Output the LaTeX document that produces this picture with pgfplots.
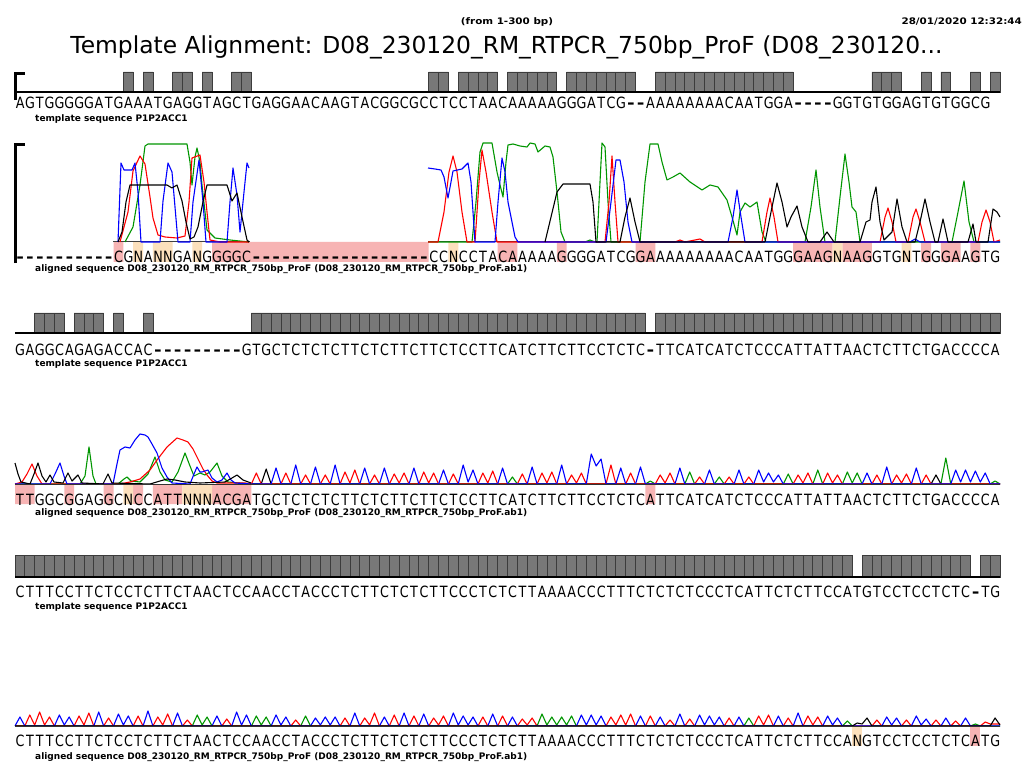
\documentclass[border=0pt]{standalone}
\usepackage{pgfplots}
\pgfplotsset{compat=1.18}
\usepackage{graphicx}
\usepackage{fontspec}
\setmainfont{DejaVu Sans}
\newfontfamily\seqfont[FakeStretch=0.82]{DejaVu Sans}
\newfontfamily\hdrfont[FakeStretch=1.15]{DejaVu Sans}
\definecolor{trgreen}{RGB}{0,150,0}
\definecolor{trred}{RGB}{255,0,0}
\definecolor{trblue}{RGB}{0,0,255}
\definecolor{trblack}{RGB}{0,0,0}
\definecolor{pinkhl}{RGB}{247,180,180}
\definecolor{orangehl}{RGB}{252,224,188}
\definecolor{barfill}{RGB}{120,120,120}
\definecolor{bardraw}{RGB}{60,60,60}
\newlength\cw \setlength\cw{9.85pt}
\makeatletter
\def\seqrow#1{\seq@a#1\relax}
\def\seq@b#1{\ifx-#1\makebox[\cw][c]{\bfseries\scalebox{1.45}[1]{-}}\else\makebox[\cw][c]{#1}\fi}
\def\seq@a#1{\ifx\relax#1\else\seq@b#1\expandafter\seq@a\fi}
\makeatother
\pgfplotsset{blk/.style={scale only axis, hide axis, clip=false, anchor=south west},
  tr/.style={line width=1.1pt, line join=round, mark=none},
  barrow/.style={ybar, bar width=1, bar shift=0pt, fill=barfill, draw=bardraw, line width=0.8pt},
  hlp/.style={ybar, bar width=1, bar shift=0pt, fill=pinkhl, draw=none},
  hlo/.style={ybar, bar width=1, bar shift=0pt, fill=orangehl, draw=none}}
\begin{document}
\begin{tikzpicture}
\fill[white] (0,0) rectangle (1030pt,764pt);
\useasboundingbox (0,0) rectangle (1030pt,764pt);
% ===== template bars =====
\begin{axis}[blk, at={(15pt,672pt)}, width=985pt, height=20pt, xmin=0.5, xmax=100.5, ymin=0, ymax=1]
\addplot[barrow] coordinates {(12,1)(14,1)(17,1)(18,1)(20,1)(23,1)(24,1)(43,1)(44,1)(46,1)(47,1)(48,1)(49,1)(51,1)(52,1)(53,1)(54,1)(55,1)(57,1)(58,1)(59,1)(60,1)(61,1)(62,1)(63,1)(66,1)(67,1)(68,1)(69,1)(70,1)(71,1)(72,1)(73,1)(74,1)(75,1)(76,1)(77,1)(78,1)(79,1)(88,1)(89,1)(90,1)(93,1)(95,1)(98,1)(100,1)};
\end{axis}
\begin{axis}[blk, at={(15pt,431pt)}, width=985pt, height=20pt, xmin=0.5, xmax=100.5, ymin=0, ymax=1]
\addplot[barrow] coordinates {(3,1)(4,1)(5,1)(7,1)(8,1)(9,1)(11,1)(14,1)(25,1)(26,1)(27,1)(28,1)(29,1)(30,1)(31,1)(32,1)(33,1)(34,1)(35,1)(36,1)(37,1)(38,1)(39,1)(40,1)(41,1)(42,1)(43,1)(44,1)(45,1)(46,1)(47,1)(48,1)(49,1)(50,1)(51,1)(52,1)(53,1)(54,1)(55,1)(56,1)(57,1)(58,1)(59,1)(60,1)(61,1)(62,1)(63,1)(64,1)(66,1)(67,1)(68,1)(69,1)(70,1)(71,1)(72,1)(73,1)(74,1)(75,1)(76,1)(77,1)(78,1)(79,1)(80,1)(81,1)(82,1)(83,1)(84,1)(85,1)(86,1)(87,1)(88,1)(89,1)(90,1)(91,1)(92,1)(93,1)(94,1)(95,1)(96,1)(97,1)(98,1)(99,1)(100,1)};
\end{axis}
\begin{axis}[blk, at={(15pt,187pt)}, width=985pt, height=22pt, xmin=0.5, xmax=100.5, ymin=0, ymax=1]
\addplot[barrow] coordinates {(1,1)(2,1)(3,1)(4,1)(5,1)(6,1)(7,1)(8,1)(9,1)(10,1)(11,1)(12,1)(13,1)(14,1)(15,1)(16,1)(17,1)(18,1)(19,1)(20,1)(21,1)(22,1)(23,1)(24,1)(25,1)(26,1)(27,1)(28,1)(29,1)(30,1)(31,1)(32,1)(33,1)(34,1)(35,1)(36,1)(37,1)(38,1)(39,1)(40,1)(41,1)(42,1)(43,1)(44,1)(45,1)(46,1)(47,1)(48,1)(49,1)(50,1)(51,1)(52,1)(53,1)(54,1)(55,1)(56,1)(57,1)(58,1)(59,1)(60,1)(61,1)(62,1)(63,1)(64,1)(65,1)(66,1)(67,1)(68,1)(69,1)(70,1)(71,1)(72,1)(73,1)(74,1)(75,1)(76,1)(77,1)(78,1)(79,1)(80,1)(81,1)(82,1)(83,1)(84,1)(85,1)(87,1)(88,1)(89,1)(90,1)(91,1)(92,1)(93,1)(94,1)(95,1)(96,1)(97,1)(99,1)(100,1)};
\end{axis}
% ===== block 1 chromatogram =====
\begin{axis}[blk, at={(15pt,522pt)}, width=985pt, height=100pt, xmin=0.5, xmax=100.5, ymin=0, ymax=100]
\addplot[hlp] coordinates {(11,-20)(21,-20)(22,-20)(23,-20)(24,-20)(25,-20)(26,-20)(27,-20)(28,-20)(29,-20)(30,-20)(31,-20)(32,-20)(33,-20)(34,-20)(35,-20)(36,-20)(37,-20)(38,-20)(39,-20)(40,-20)(41,-20)(42,-20)(50,-20)(51,-20)(56,-20)(64,-20)(65,-20)(80,-20)(81,-20)(82,-20)(83,-20)(85,-20)(86,-20)(87,-20)(93,-20)(95,-20)(96,-20)(98,-20)};
\addplot[hlo] coordinates {(13,-20)(15,-20)(16,-20)(19,-20)(45,-20)(84,-20)(91,-20)};
\end{axis}
\begin{axis}[blk, at={(0pt,522pt)}, width=1030pt, height=100pt, xmin=0, xmax=1030, ymin=0, ymax=100]
\addplot[tr, black!75, line width=1pt] coordinates {(113,0)(250,0)};
\addplot[tr, black!75, line width=1pt] coordinates {(428,0)(1000,0)};
\addplot[tr, trgreen] coordinates {(125,0)(133,15)(140,57)(145,96)(148,98)(187,98)(190,80)(192,57)(195,85)(197,94)(200,80)(202,57)(207,12)(215,4)(230,2)(249,0)};
\addplot[tr, trgreen] coordinates {(428,0)(472,0)(476,40)(480,90)(483,99)(492,99)(497,70)(500,57)(503,45)(506,80)(508,97)(513,98)(520,96)(527,95)(530,99)(535,98)(538,90)(545,96)(550,95)(553,85)(557,50)(561,10)(565,0)(585,0)(590,2)(595,0)(597,0)(600,60)(602,99)(605,95)(608,40)(611,0)(640,0)(645,60)(650,98)(658,98)(662,80)(667,62)(673,65)(680,69)(690,60)(702,52)(710,57)(718,55)(727,42)(732,25)(737,7)(740,30)(745,39)(750,35)(757,40)(762,10)(766,0)(805,0)(811,35)(816,72)(820,35)(825,0)(835,0)(840,45)(845,88)(849,60)(852,35)(856,30)(860,0)(952,0)(958,30)(964,61)(969,20)(974,0)(1000,0)};
\addplot[tr, trred] coordinates {(120,0)(128,30)(133,71)(140,86)(145,78)(150,45)(153,24)(158,7)(165,5)(177,4)(185,6)(189,40)(192,84)(200,87)(204,60)(207,30)(210,2)(220,0)(249,0)};
\addplot[tr, trred] coordinates {(428,0)(438,0)(444,30)(449,70)(453,86)(457,70)(462,30)(467,0)(475,0)(479,60)(482,92)(486,70)(492,30)(497,0)(605,0)(609,40)(612,86)(615,40)(618,0)(675,0)(680,2)(685,0)(700,3)(705,0)(762,0)(767,30)(770,44)(774,25)(778,0)(880,0)(885,25)(888,34)(892,20)(896,0)(908,0)(913,25)(916,33)(920,20)(925,0)(978,0)(982,20)(986,32)(990,20)(994,0)(1000,2)};
\addplot[tr, trblue] coordinates {(118,0)(121,79)(124,72)(132,72)(135,79)(138,50)(141,0)(160,0)(163,41)(168,79)(172,70)(178,0)(190,0)(193,40)(199,82)(203,40)(206,0)(227,0)(230,40)(233,74)(237,47)(240,10)(244,50)(247,79)(249,74)};
\addplot[tr, trblue] coordinates {(428,74)(435,73)(441,72)(444,65)(448,44)(451,60)(453,71)(462,73)(468,79)(471,60)(475,0)(495,0)(498,40)(502,84)(505,70)(508,40)(512,20)(515,5)(518,0)(606,0)(611,40)(616,82)(620,82)(624,60)(628,20)(632,0)(728,0)(733,25)(737,52)(741,25)(745,0)(910,0)(915,3)(920,0)(1000,0)};
\addplot[tr, trblack] coordinates {(118,0)(122,10)(126,40)(130,57)(167,57)(172,54)(177,57)(182,41)(186,20)(190,3)(194,5)(198,15)(203,40)(207,57)(227,57)(232,41)(237,49)(242,25)(247,2)(249,0)};
\addplot[tr, trblack] coordinates {(545,0)(551,25)(557,50)(563,58)(590,58)(593,40)(596,0)(620,0)(625,25)(630,44)(635,20)(640,0)(765,0)(771,30)(777,59)(782,40)(787,15)(791,25)(797,36)(802,15)(808,0)(820,0)(827,10)(834,0)(860,0)(866,20)(870,22)(872,40)(876,55)(880,20)(884,2)(892,10)(897,43)(902,15)(907,0)(915,0)(920,20)(925,43)(930,20)(935,0)(938,0)(943,23)(948,0)(968,0)(973,18)(976,0)(988,0)(993,33)(997,30)(1000,25)};
\end{axis}
% ===== block 2 chromatogram =====
\begin{axis}[blk, at={(15pt,280pt)}, width=985pt, height=100pt, xmin=0.5, xmax=100.5, ymin=0, ymax=100]
\addplot[hlp] coordinates {(1,-20)(2,-20)(6,-20)(10,-20)(13,-20)(15,-20)(16,-20)(17,-20)(21,-20)(22,-20)(23,-20)(24,-20)(65,-20)};
\addplot[hlo] coordinates {(12,-20)(18,-20)(19,-20)(20,-20)};
\addplot[tr, trgreen] coordinates {(24.5,0)(50.5,0)(51,7)(51.5,0)(64.5,0)(65,3)(65.5,0)(68.5,0)(69,12)(69.5,0)(71.5,0)(72,7)(72.5,0)(78.5,0)(79,10)(79.5,0)(81.5,0)(82,14)(82.5,0)(84.5,0)(85,12)(85.5,1)(86,11)(86.5,0)(94.5,0)(95,26)(95.5,0)(99.5,0)(100,3)(100.5,0)};
\addplot[tr, trblack] coordinates {(24.5,0)(25.5,0)(26,15)(26.5,0)(93.5,0)(94,9)(94.5,0)(100.5,0)};
\addplot[tr, trred] coordinates {(24.5,0)(25,11)(25.5,0)(27.5,0)(28,11)(28.5,0)(29.5,0)(30,9)(30.5,0)(31.5,0)(32,9)(32.5,0)(33.5,0)(34,12)(34.5,1)(35,14)(35.5,0)(36.5,0)(37,9)(37.5,0)(38.5,0)(39,10)(39.5,1)(40,11)(40.5,0)(41.5,0)(42,12)(42.5,1)(43,11)(43.5,0)(44.5,0)(45,10)(45.5,0)(47.5,0)(48,11)(48.5,1)(49,13)(49.5,0)(51.5,0)(52,10)(52.5,0)(53.5,0)(54,11)(54.5,1)(55,12)(55.5,0)(56.5,0)(57,9)(57.5,1)(58,11)(58.5,0)(60.5,0)(61,19)(61.5,0)(62.5,0)(63,11)(63.5,0)(65.5,0)(66,9)(66.5,1)(67,11)(67.5,0)(69.5,0)(70,7)(70.5,0)(72.5,0)(73,7)(73.5,0)(74.5,0)(75,7)(75.5,0)(79.5,0)(80,9)(80.5,1)(81,11)(81.5,0)(82.5,0)(83,11)(83.5,1)(84,9)(84.5,0)(87.5,0)(88,9)(88.5,0)(89.5,0)(90,9)(90.5,1)(91,10)(91.5,0)(92.5,0)(93,9)(93.5,0)(100.5,0)};
\addplot[tr, trblue] coordinates {(24.5,0)(26.5,0)(27,16)(27.5,0)(28.5,0)(29,19)(29.5,0)(30.5,0)(31,17)(31.5,0)(32.5,0)(33,19)(33.5,0)(35.5,0)(36,16)(36.5,0)(37.5,0)(38,16)(38.5,0)(40.5,0)(41,16)(41.5,0)(43.5,0)(44,14)(44.5,0)(45.5,0)(46,19)(46.5,2)(47,14)(47.5,0)(49.5,0)(50,16)(50.5,0)(52.5,0)(53,17)(53.5,0)(55.5,0)(56,19)(56.5,0)(58.5,0)(59,30)(59.5,18)(60,25)(60.5,0)(61.5,0)(62,16)(62.5,0)(63.5,0)(64,17)(64.5,0)(67.5,0)(68,16)(68.5,0)(70.5,0)(71,14)(71.5,0)(73.5,0)(74,14)(74.5,0)(75.5,0)(76,14)(76.5,2)(77,11)(77.5,2)(78,9)(78.5,0)(86.5,0)(87,11)(87.5,0)(88.5,0)(89,17)(89.5,0)(91.5,0)(92,16)(92.5,0)(95.5,0)(96,14)(96.5,2)(97,14)(97.5,2)(98,13)(98.5,2)(99,11)(99.5,0)(100.5,0)};
\end{axis}
\begin{axis}[blk, at={(0pt,280pt)}, width=1030pt, height=100pt, xmin=0, xmax=1030, ymin=0, ymax=100]
\addplot[tr, trgreen] coordinates {(15,0)(80,0)(85,8)(89,37)(93,8)(96,0)(118,0)(124,5)(127,7)(131,3)(140,2)(148,10)(155,27)(160,12)(165,4)(172,2)(178,12)(185,31)(190,18)(194,8)(200,11)(205,9)(210,12)(217,21)(222,8)(228,2)(251,0)};
\addplot[tr, trred] coordinates {(15,0)(22,2)(27,10)(32,20)(37,8)(42,0)(120,0)(130,2)(140,5)(150,14)(157,24)(167,37)(177,46)(183,44)(188,42)(193,35)(197,27)(203,15)(207,9)(212,3)(217,1)(245,1)(251,0)};
\addplot[tr, trblue] coordinates {(15,0)(50,0)(55,10)(60,21)(64,8)(67,0)(113,0)(117,20)(120,34)(125,37)(130,36)(135,44)(140,50)(145,49)(148,47)(152,40)(157,31)(162,16)(167,7)(172,1)(190,0)(194,10)(197,17)(200,12)(202,12)(205,13)(208,14)(212,6)(217,2)(222,4)(227,11)(231,4)(235,1)(251,0)};
\addplot[tr, trblack] coordinates {(15,21)(18,10)(21,2)(30,0)(34,10)(38,21)(42,8)(46,2)(50,9)(54,2)(63,1)(68,11)(72,3)(78,9)(82,1)(103,0)(108,10)(112,1)(150,0)(160,3)(167,5)(175,4)(185,2)(200,1)(225,2)(232,6)(237,9)(243,4)(251,1)};
\end{axis}
% ===== block 3 chromatogram =====
\begin{axis}[blk, at={(15pt,38pt)}, width=985pt, height=100pt, xmin=0.5, xmax=100.5, ymin=0, ymax=100]
\addplot[hlp] coordinates {(98,-20)};
\addplot[hlo] coordinates {(86,-20)};
\addplot[tr, trgreen] coordinates {(0.5,0)(18.5,0)(19,11)(19.5,1)(20,9)(20.5,0)(24.5,0)(25,10)(25.5,1)(26,9)(26.5,0)(29.5,0)(30,10)(30.5,0)(53.5,0)(54,12)(54.5,1)(55,9)(55.5,1)(56,9)(56.5,1)(57,10)(57.5,0)(74.5,0)(75,8)(75.5,0)(84.5,0)(85,5)(85.5,0)(97.5,0)(98,2)(98.5,0)(100.5,0)};
\addplot[tr, trred] coordinates {(0.5,0)(1.5,0)(2,11)(2.5,1)(3,14)(3.5,1)(4,9)(4.5,0)(6.5,0)(7,10)(7.5,1)(8,13)(8.5,0)(9.5,0)(10,8)(10.5,0)(12.5,0)(13,10)(13.5,0)(14.5,0)(15,9)(15.5,1)(16,12)(16.5,0)(17.5,0)(18,6)(18.5,0)(21.5,0)(22,7)(22.5,0)(28.5,0)(29,6)(29.5,0)(33.5,0)(34,8)(34.5,0)(35.5,0)(36,8)(36.5,1)(37,13)(37.5,0)(38.5,0)(39,11)(39.5,0)(40.5,0)(41,10)(41.5,0)(42.5,0)(43,8)(43.5,1)(44,10)(44.5,0)(47.5,0)(48,9)(48.5,0)(49.5,0)(50,10)(50.5,0)(51.5,0)(52,7)(52.5,1)(53,8)(53.5,0)(60.5,0)(61,9)(61.5,1)(62,11)(62.5,1)(63,12)(63.5,0)(64.5,0)(65,10)(65.5,0)(66.5,0)(67,6)(67.5,0)(68.5,0)(69,7)(69.5,0)(72.5,0)(73,8)(73.5,0)(75.5,0)(76,10)(76.5,1)(77,11)(77.5,0)(78.5,0)(79,8)(79.5,0)(80.5,0)(81,10)(81.5,1)(82,9)(82.5,0)(87.5,0)(88,6)(88.5,0)(90.5,0)(91,6)(91.5,0)(93.5,0)(94,6)(94.5,0)(95.5,0)(96,5)(96.5,0)(98.5,0)(99,4)(99.5,2)(100.5,2)};
\addplot[tr, trblue] coordinates {(0.5,0)(1,9)(1.5,0)(4.5,0)(5,11)(5.5,1)(6,9)(6.5,0)(8.5,0)(9,14)(9.5,0)(10.5,0)(11,12)(11.5,1)(12,10)(12.5,0)(13.5,0)(14,15)(14.5,0)(16.5,0)(17,13)(17.5,0)(20.5,0)(21,10)(21.5,0)(22.5,0)(23,14)(23.5,1)(24,11)(24.5,0)(26.5,0)(27,11)(27.5,1)(28,9)(28.5,0)(30.5,0)(31,8)(31.5,1)(32,9)(32.5,1)(33,9)(33.5,0)(34.5,0)(35,13)(35.5,0)(37.5,0)(38,9)(38.5,0)(39.5,0)(40,13)(40.5,0)(41.5,0)(42,12)(42.5,0)(44.5,0)(45,13)(45.5,1)(46,10)(46.5,1)(47,9)(47.5,0)(48.5,0)(49,12)(49.5,0)(50.5,0)(51,9)(51.5,0)(57.5,0)(58,11)(58.5,1)(59,11)(59.5,1)(60,10)(60.5,0)(63.5,0)(64,10)(64.5,0)(65.5,0)(66,9)(66.5,0)(67.5,0)(68,12)(68.5,0)(69.5,0)(70,11)(70.5,1)(71,10)(71.5,1)(72,9)(72.5,0)(73.5,0)(74,9)(74.5,0)(77.5,0)(78,10)(78.5,0)(79.5,0)(80,13)(80.5,0)(82.5,0)(83,10)(83.5,1)(84,8)(84.5,0)(88.5,0)(89,9)(89.5,1)(90,8)(90.5,0)(91.5,0)(92,10)(92.5,1)(93,7)(93.5,0)(94.5,0)(95,8)(95.5,0)(96.5,0)(97,8)(97.5,0)(100.5,0)};
\addplot[tr, trblack] coordinates {(0.5,0)(85.5,0)(86,3)(86.5,2)(87,8)(87.5,0)(99.5,0)(100,8)(100.5,1)};
\end{axis}
% ===== main layer: text, lines, brackets =====
\begin{axis}[blk, at={(0pt,0pt)}, width=1030pt, height=764pt, xmin=0, xmax=1030, ymin=0, ymax=764, y dir=reverse]
\addplot[black, line width=1.2pt, mark=none] coordinates {(15,92)(1000,92)};
\addplot[black, line width=1.2pt, mark=none] coordinates {(15,333)(1000,333)};
\addplot[black, line width=1.2pt, mark=none] coordinates {(15,577)(1000,577)};
\addplot[black!80, line width=0.8pt, mark=none] coordinates {(15,484)(1000,484)};
\addplot[black!80, line width=0.8pt, mark=none] coordinates {(15,726)(1000,726)};
\addplot[black, line width=3pt, mark=none] coordinates {(15.5,100)(15.5,73.5)(25,73.5)};
\addplot[black, line width=3pt, mark=none] coordinates {(15.5,263)(15.5,144.5)(25,144.5)};
\node[anchor=base, inner sep=0, font=\hdrfont\bfseries\fontsize{9}{10}\selectfont] at (axis cs:507,24) {(from 1-300 bp)};
\node[anchor=base east, inner sep=0, font=\hdrfont\bfseries\fontsize{9}{10}\selectfont] at (axis cs:1022,24) {28/01/2020 12:32:44};
\node[anchor=base, inner sep=0, font=\fontsize{23.4}{26}\selectfont] at (axis cs:506.5,53.5) {Template Alignment: D08\_230120\_RM\_RTPCR\_750bp\_ProF (D08\_230120...};
% block 1
\node[anchor=base west, inner sep=0, font=\seqfont\fontsize{15.5}{15.5}\selectfont] at (axis cs:15,108.5) {\seqrow{AGTGGGGGATGAAATGAGGTAGCTGAGGAACAAGTACGGCGCCTCCTAACAAAAAGGGATCG--AAAAAAAACAATGGA----GGTGTGGAGTGTGGCG}};
\node[anchor=base west, inner sep=0, font=\bfseries\fontsize{9}{10}\selectfont] at (axis cs:35,121) {template sequence P1P2ACC1};
\node[anchor=base west, inner sep=0, font=\seqfont\fontsize{15.5}{15.5}\selectfont] at (axis cs:15,262.5) {\seqrow{----------CGNANNGANGGGGC------------------CCNCCTACAAAAAGGGGATCGGAAAAAAAAACAATGGGAAGNAAGGTGNTGGGAAGTG}};
\node[anchor=base west, inner sep=0, font=\bfseries\fontsize{9}{10}\selectfont] at (axis cs:35,271.5) {aligned sequence D08\_230120\_RM\_RTPCR\_750bp\_ProF (D08\_230120\_RM\_RTPCR\_750bp\_ProF.ab1)};
% block 2
\node[anchor=base west, inner sep=0, font=\seqfont\fontsize{15.5}{15.5}\selectfont] at (axis cs:15,355) {\seqrow{GAGGCAGAGACCAC---------GTGCTCTCTCTTCTCTTCTTCTCCTTCATCTTCTTCCTCTC-TTCATCATCTCCCATTATTAACTCTTCTGACCCCA}};
\node[anchor=base west, inner sep=0, font=\bfseries\fontsize{9}{10}\selectfont] at (axis cs:35,366) {template sequence P1P2ACC1};
\node[anchor=base west, inner sep=0, font=\seqfont\fontsize{15.5}{15.5}\selectfont] at (axis cs:15,505) {\seqrow{TTGGCGGAGGCNCCATTNNNACGATGCTCTCTCTTCTCTTCTTCTCCTTCATCTTCTTCCTCTCATTCATCATCTCCCATTATTAACTCTTCTGACCCCA}};
\node[anchor=base west, inner sep=0, font=\bfseries\fontsize{9}{10}\selectfont] at (axis cs:35,515) {aligned sequence D08\_230120\_RM\_RTPCR\_750bp\_ProF (D08\_230120\_RM\_RTPCR\_750bp\_ProF.ab1)};
% block 3
\node[anchor=base west, inner sep=0, font=\seqfont\fontsize{15.5}{15.5}\selectfont] at (axis cs:15,597) {\seqrow{CTTTCCTTCTCCTCTTCTAACTCCAACCTACCCTCTTCTCTCTTCCCTCTCTTAAAACCCTTTCTCTCTCCCTCATTCTCTTCCATGTCCTCCTCTC-TG}};
\node[anchor=base west, inner sep=0, font=\bfseries\fontsize{9}{10}\selectfont] at (axis cs:35,609) {template sequence P1P2ACC1};
\node[anchor=base west, inner sep=0, font=\seqfont\fontsize{15.5}{15.5}\selectfont] at (axis cs:15,746.5) {\seqrow{CTTTCCTTCTCCTCTTCTAACTCCAACCTACCCTCTTCTCTCTTCCCTCTCTTAAAACCCTTTCTCTCTCCCTCATTCTCTTCCANGTCCTCCTCTCATG}};
\node[anchor=base west, inner sep=0, font=\bfseries\fontsize{9}{10}\selectfont] at (axis cs:35,759) {aligned sequence D08\_230120\_RM\_RTPCR\_750bp\_ProF (D08\_230120\_RM\_RTPCR\_750bp\_ProF.ab1)};
\end{axis}
\end{tikzpicture}
\end{document}
